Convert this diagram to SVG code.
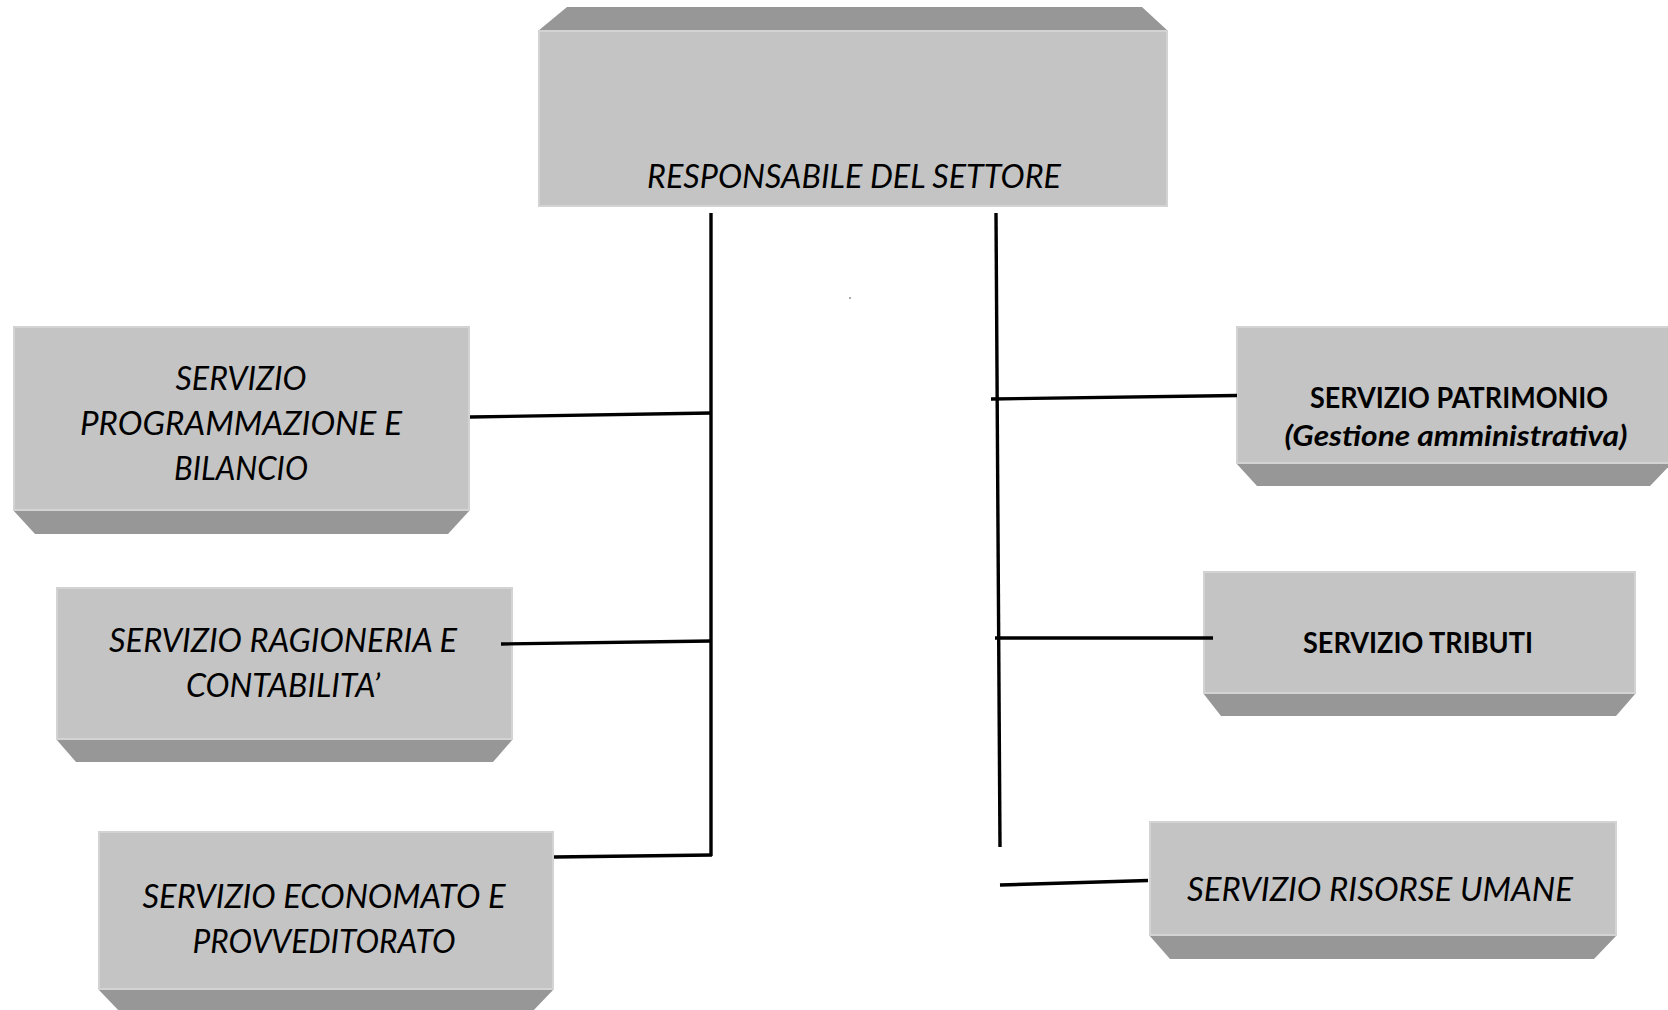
<svg xmlns="http://www.w3.org/2000/svg" width="1668" height="1010" viewBox="0 0 1668 1010">
  <style>
    .face { fill: #c4c4c4; stroke: #d3d3d3; stroke-width: 2; }
    .bevel { fill: #979797; }
    .lbl { font-family: Lato, "Open Sans", "Liberation Sans", sans-serif; font-size: 32px; font-style: italic; fill: #000; }
    .lblb { font-family: Lato, "Open Sans", "Liberation Sans", sans-serif; font-size: 28.5px; font-weight: bold; fill: #000; }
    .link { fill: none; stroke: #000; stroke-width: 3.4; stroke-linecap: butt; }
  </style>
  <rect width="1668" height="1010" fill="#fff"/>

  <!-- head of the sector -->
  <g id="responsabile">
    <polygon class="bevel" points="538,31 567,7 1142,7 1168,31"/>
    <rect class="face" x="539" y="31" width="628" height="175"/>
    <text class="lbl" x="854" y="188" text-anchor="middle" textLength="414" lengthAdjust="spacingAndGlyphs">RESPONSABILE DEL SETTORE</text>
  </g>

  <g id="programmazione">
    <polygon class="bevel" points="13,510 35,534 448,534 470,510"/>
    <rect class="face" x="14" y="327" width="455" height="183"/>
    <text class="lbl" x="241" y="390" text-anchor="middle" textLength="131" lengthAdjust="spacingAndGlyphs">SERVIZIO</text>
    <text class="lbl" x="241" y="435" text-anchor="middle" textLength="322" lengthAdjust="spacingAndGlyphs">PROGRAMMAZIONE E</text>
    <text class="lbl" x="241" y="480" text-anchor="middle" textLength="134" lengthAdjust="spacingAndGlyphs">BILANCIO</text>
  </g>

  <g id="ragioneria">
    <polygon class="bevel" points="56,739 76,762 493,762 513,739"/>
    <rect class="face" x="57" y="588" width="455" height="151"/>
    <text class="lbl" x="283" y="652" text-anchor="middle" textLength="348" lengthAdjust="spacingAndGlyphs">SERVIZIO RAGIONERIA E</text>
    <text class="lbl" x="283" y="697" text-anchor="middle" textLength="194" lengthAdjust="spacingAndGlyphs">CONTABILITA’</text>
  </g>

  <g id="economato">
    <polygon class="bevel" points="98,989 121,1013 531,1013 554,989"/>
    <rect class="face" x="99" y="832" width="454" height="157"/>
    <text class="lbl" x="324" y="908" text-anchor="middle" textLength="363" lengthAdjust="spacingAndGlyphs">SERVIZIO ECONOMATO E</text>
    <text class="lbl" x="324" y="953" text-anchor="middle" textLength="263" lengthAdjust="spacingAndGlyphs">PROVVEDITORATO</text>
  </g>

  <g id="patrimonio">
    <polygon class="bevel" points="1236,463 1257,486 1650,486 1672,463"/>
    <rect class="face" x="1237" y="327" width="436" height="136"/>
    <text class="lblb" x="1459" y="408" text-anchor="middle" textLength="298" lengthAdjust="spacingAndGlyphs">SERVIZIO PATRIMONIO</text>
    <text class="lblb" x="1456" y="446" text-anchor="middle" font-style="italic" textLength="343" lengthAdjust="spacingAndGlyphs">(Gestione amministrativa)</text>
  </g>

  <g id="tributi">
    <polygon class="bevel" points="1203,693 1221,716 1616,716 1636,693"/>
    <rect class="face" x="1204" y="572" width="431" height="121"/>
    <text class="lblb" x="1418" y="653" text-anchor="middle" textLength="230" lengthAdjust="spacingAndGlyphs">SERVIZIO TRIBUTI</text>
  </g>

  <g id="risorse-umane">
    <polygon class="bevel" points="1149,935 1170,959 1594,959 1617,935"/>
    <rect class="face" x="1150" y="822" width="466" height="113"/>
    <text class="lbl" x="1380" y="901" text-anchor="middle" textLength="386" lengthAdjust="spacingAndGlyphs">SERVIZIO RISORSE UMANE</text>
  </g>

  <!-- connectors, drawn over the boxes where they run into them -->
  <g id="connectors">
    <line class="link" x1="711" y1="213" x2="711" y2="856"/>
    <line class="link" x1="470" y1="417" x2="711" y2="413"/>
    <line class="link" x1="501" y1="644" x2="711" y2="641"/>
    <line class="link" x1="554" y1="857" x2="712" y2="855"/>
    <line class="link" x1="996" y1="213" x2="1000" y2="847"/>
    <line class="link" x1="991" y1="399" x2="1237" y2="395.5"/>
    <line class="link" x1="995" y1="638" x2="1213" y2="638"/>
    <line class="link" x1="1000" y1="885" x2="1148" y2="880.5"/>
  </g>

  <!-- stray speck -->
  <rect x="849.5" y="297" width="1" height="2" fill="#555"/>
</svg>
